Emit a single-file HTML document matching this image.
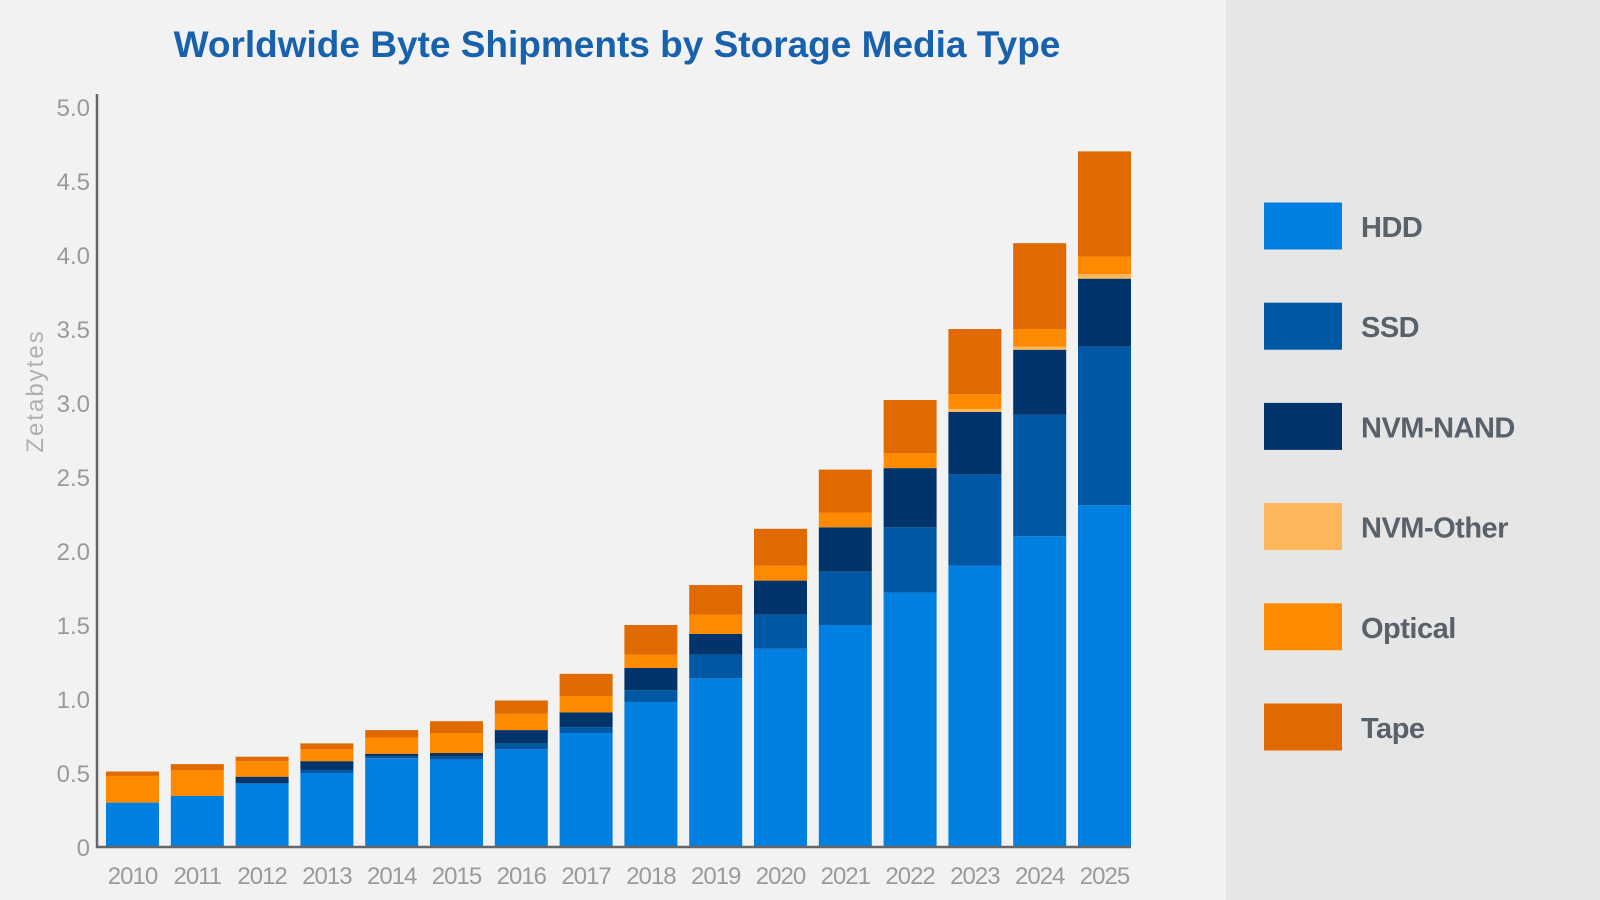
<!DOCTYPE html>
<html><head><meta charset="utf-8"><style>
html,body{margin:0;padding:0;background:#f2f2f2;}
svg{display:block;font-family:"Liberation Sans",sans-serif;}
</style></head><body>
<svg id="chart" width="1600" height="900" viewBox="0 0 1600 900">
<rect x="0" y="0" width="1600" height="900" fill="#f2f2f2"/>
<rect x="1226" y="0" width="374" height="900" fill="#e6e6e6"/>
<text x="617" y="57" text-anchor="middle" font-size="37" font-weight="bold" fill="#1862ad">Worldwide Byte Shipments by Storage Media Type</text>
<text transform="translate(43,391) rotate(-90)" text-anchor="middle" font-size="24" letter-spacing="2" fill="#b0b0b0">Zetabytes</text>
<g id="plot"></g>
<g id="legend"></g>
</svg>
<script>
const years = ["2010","2011","2012","2013","2014","2015","2016","2017","2018","2019","2020","2021","2022","2023","2024","2025"];
const seriesNames = ["HDD","SSD","NVM-NAND","NVM-Other","Optical","Tape"];
const hdd = [0.30,0.345,0.43,0.50,0.60,0.59,0.66,0.77,0.98,1.14,1.34,1.50,1.72,1.90,2.10,2.31];
const ssd = [0,0,0,0.02,0.01,0.02,0.04,0.04,0.08,0.16,0.23,0.36,0.44,0.62,0.82,1.07];
const nand = [0,0,0.045,0.06,0.02,0.025,0.09,0.10,0.15,0.14,0.23,0.30,0.40,0.42,0.44,0.46];
const nvmOther = [0,0,0,0,0,0,0,0,0,0,0,0,0,0.02,0.02,0.03];
const optical = [0.18,0.175,0.105,0.08,0.11,0.135,0.11,0.11,0.09,0.13,0.10,0.10,0.10,0.10,0.12,0.12];
const tape = [0.03,0.04,0.03,0.04,0.05,0.08,0.09,0.15,0.20,0.20,0.25,0.29,0.36,0.44,0.58,0.71];
const yTicks = ["0","0.5","1.0","1.5","2.0","2.5","3.0","3.5","4.0","4.5","5.0"];

const colors = ["#0080e0","#0057a3","#00346b","#fdb65a","#ff8a00","#e06a00"];
const series = [hdd, ssd, nand, nvmOther, optical, tape];
const NS = "http://www.w3.org/2000/svg";
const plot = document.getElementById("plot");
const legend = document.getElementById("legend");
const y0 = 847, pxPerUnit = 148, x0 = 106, pitch = 64.8, barW = 53;
function yScale(v){ return y0 - v * pxPerUnit; }
function xScale(i){ return x0 + i * pitch; }
function mk(tag, attrs, parent){ const e = document.createElementNS(NS, tag); for (const k in attrs) e.setAttribute(k, attrs[k]); parent.appendChild(e); return e; }

yTicks.forEach(t => {
  const el = mk("text", {x: 90, y: yScale(parseFloat(t)) + 9, "text-anchor": "end", "font-size": 24, fill: "#9a9a9a"}, plot);
  
  
  el.textContent = t;
});

years.forEach((yr, i) => {
  let cum = 0;
  series.forEach((s, k) => {
    const v = s[i];
    if (v > 0) {
      const r = mk("rect", {x: xScale(i), y: yScale(cum + v), width: barW, height: v * pxPerUnit, fill: colors[k]}, plot);
      
      
    }
    cum += v;
  });
  const lbl = mk("text", {x: xScale(i) + barW / 2, y: 884, "text-anchor": "middle", "font-size": 24, fill: "#9a9a9a", "letter-spacing": "-1"}, plot);
  
  
  lbl.textContent = yr;
});

const ax = mk("path", {d: "M97 94 V847 H1131", stroke: "#666", "stroke-width": 2.5, fill: "none"}, plot);



seriesNames.forEach((n, k) => {
  const cy = 226 + k * 100.2;
  const sw = mk("rect", {x: 1264, y: cy - 23.5, width: 78, height: 47, fill: colors[k]}, legend);
  
  
  const t = mk("text", {x: 1361, y: cy + 11, "font-size": 29, "font-weight": "bold", fill: "#59616b", "letter-spacing": "-0.5"}, legend);
  
  
  t.textContent = n;
});
</script>
</body></html>
